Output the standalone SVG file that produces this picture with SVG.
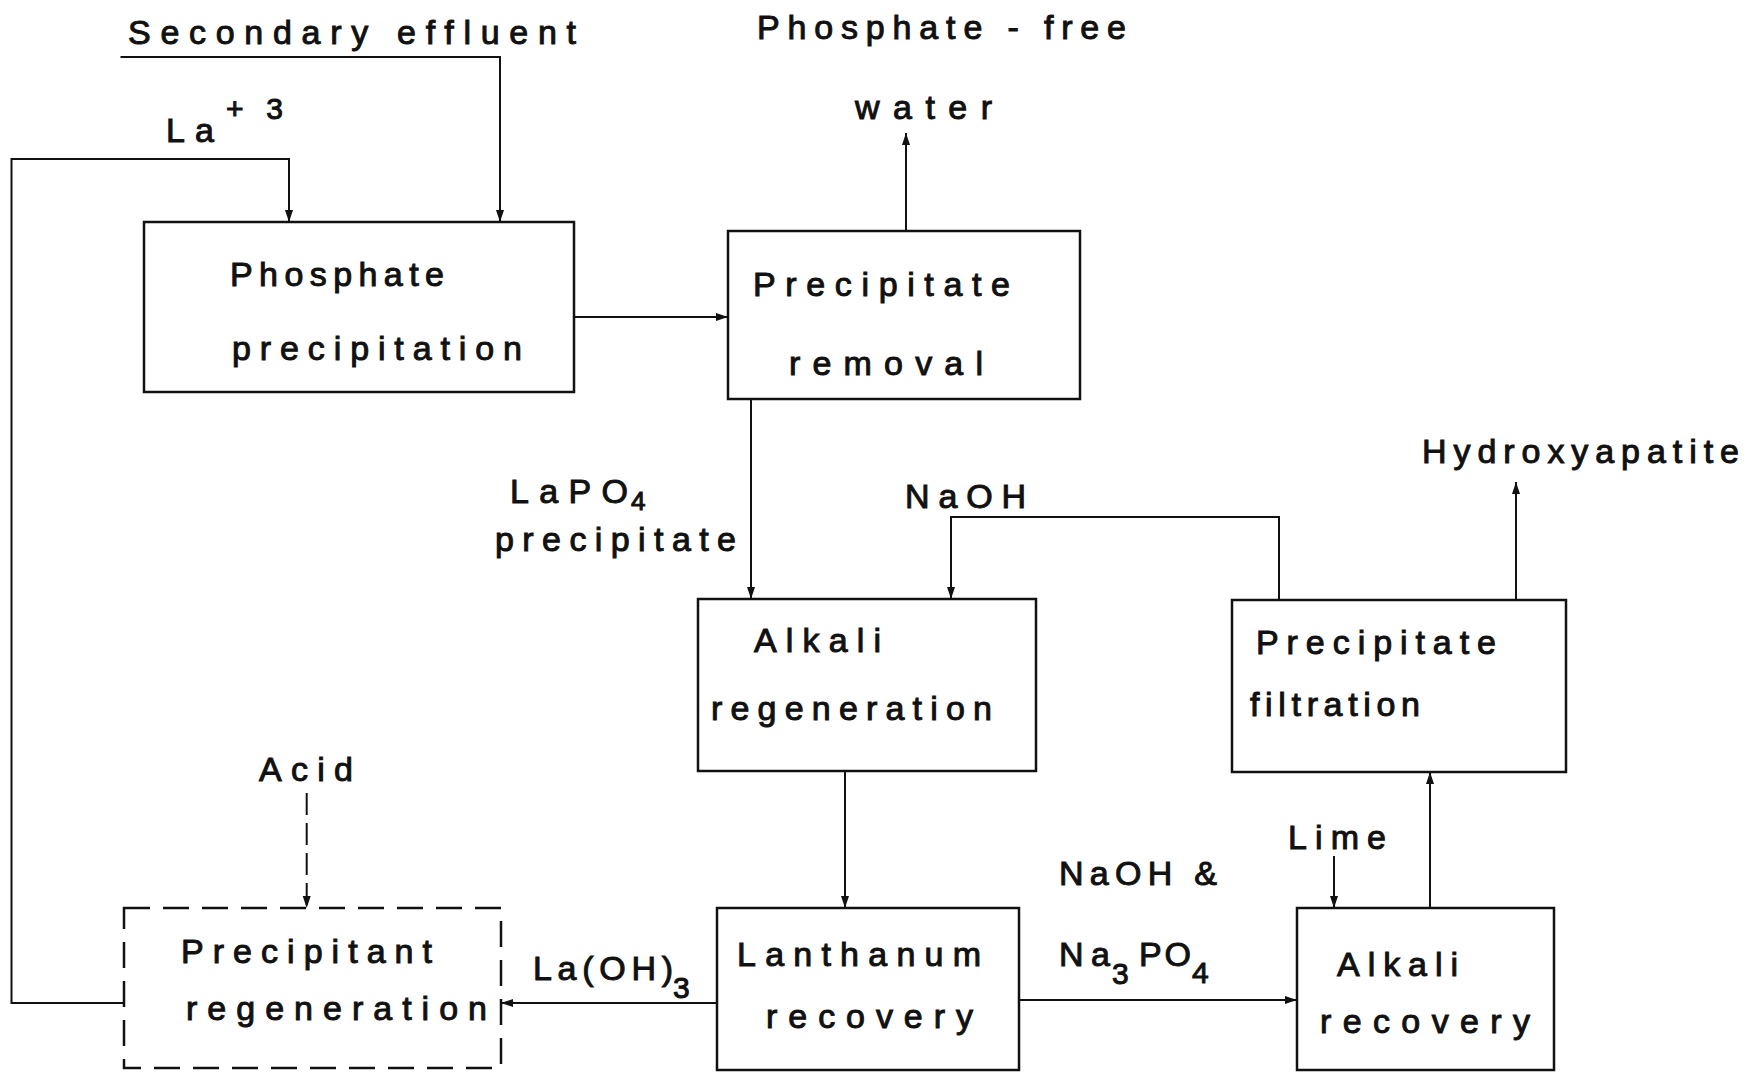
<svg xmlns="http://www.w3.org/2000/svg" width="1764" height="1072" viewBox="0 0 1764 1072">
<style>
text{font-family:"Liberation Sans",Arial,sans-serif;font-size:34px;font-weight:normal;fill:#111;stroke:#111;stroke-width:1}
.box{fill:none;stroke:#111;stroke-width:2.5}
.dash{stroke-dasharray:26 13}
.c{fill:none;stroke:#111;stroke-width:2}
.sub{font-size:30px}
.sm{font-size:26px}
</style>
<defs>
<marker id="ah" viewBox="0 0 12 10" refX="12" refY="5" markerWidth="12" markerHeight="10" markerUnits="userSpaceOnUse" orient="auto">
<path d="M0,1 L12,5 L0,9 z" fill="#111"/>
</marker>
</defs>
<rect width="1764" height="1072" fill="#fff"/>
<g id="connectors">
<path class="c" d="M120.5,57 H500 V222" marker-end="url(#ah)"/>
<path class="c" d="M124,1003 H11.5 V159 H289 V222" marker-end="url(#ah)"/>
<path class="c" d="M574,317 H728" marker-end="url(#ah)"/>
<path class="c" d="M906,231 V133" marker-end="url(#ah)"/>
<path class="c" d="M751,399 V599" marker-end="url(#ah)"/>
<path class="c" d="M1279,600 V517 H951 V599" marker-end="url(#ah)"/>
<path class="c" d="M1516,600 V482" marker-end="url(#ah)"/>
<path class="c" d="M845,771 V908" marker-end="url(#ah)"/>
<path class="c" d="M717,1003 H501" marker-end="url(#ah)"/>
<path class="c" d="M1019,1000 H1297" marker-end="url(#ah)"/>
<path class="c" d="M1334,856 V908" marker-end="url(#ah)"/>
<path class="c" d="M1430,908 V772" marker-end="url(#ah)"/>
<path class="c" d="M306.7,793 V908" stroke-dasharray="22 8" marker-end="url(#ah)"/>
</g>
<g id="labels">
<text x="128" y="44" textLength="448" lengthAdjust="spacing">Secondary effluent</text>
<text x="166" y="142" textLength="48" lengthAdjust="spacing">La</text>
<text x="226" y="119" textLength="57" lengthAdjust="spacing" class="sub">+3</text>
<text x="757" y="39" textLength="369" lengthAdjust="spacing">Phosphate - free</text>
<text x="855" y="119" textLength="137" lengthAdjust="spacing">water</text>
<text x="510" y="503" textLength="118" lengthAdjust="spacing">LaPO</text>
<text x="631" y="510" textLength="20" lengthAdjust="spacing" class="sm">4</text>
<text x="495" y="551" textLength="241" lengthAdjust="spacing">precipitate</text>
<text x="905" y="508" textLength="121" lengthAdjust="spacing">NaOH</text>
<text x="1422" y="463" textLength="317" lengthAdjust="spacing">Hydroxyapatite</text>
<text x="259" y="781" textLength="94" lengthAdjust="spacing">Acid</text>
<text x="533" y="980" textLength="140" lengthAdjust="spacing">La(OH)</text>
<text x="673" y="998" textLength="21" lengthAdjust="spacing" class="sub">3</text>
<text x="1059" y="885" textLength="158" lengthAdjust="spacing">NaOH &amp;</text>
<text x="1059" y="966" textLength="51" lengthAdjust="spacing">Na</text>
<text x="1112" y="984" textLength="21" lengthAdjust="spacing" class="sub">3</text>
<text x="1139" y="966" textLength="52" lengthAdjust="spacing">PO</text>
<text x="1192" y="983" textLength="22" lengthAdjust="spacing" class="sub">4</text>
<text x="1288" y="849" textLength="98" lengthAdjust="spacing">Lime</text>
</g>
<g id="phosphate-precipitation">
<rect class="box" x="144" y="222" width="430" height="170"/>
<text x="230" y="286" textLength="214" lengthAdjust="spacing">Phosphate</text>
<text x="232" y="360" textLength="290" lengthAdjust="spacing">precipitation</text>
</g>
<g id="precipitate-removal">
<rect class="box" x="728" y="231" width="352" height="168"/>
<text x="753" y="296" textLength="257" lengthAdjust="spacing">Precipitate</text>
<text x="789" y="375" textLength="194" lengthAdjust="spacing">removal</text>
</g>
<g id="alkali-regeneration">
<rect class="box" x="698" y="599" width="338" height="172"/>
<text x="754" y="652" textLength="127" lengthAdjust="spacing">Alkali</text>
<text x="711" y="720" textLength="281" lengthAdjust="spacing">regeneration</text>
</g>
<g id="precipitate-filtration">
<rect class="box" x="1232" y="600" width="334" height="172"/>
<text x="1256" y="654" textLength="240" lengthAdjust="spacing">Precipitate</text>
<text x="1250" y="716" textLength="170" lengthAdjust="spacing">filtration</text>
</g>
<g id="precipitant-regeneration">
<rect class="box dash" x="124" y="908" width="377" height="160"/>
<text x="181" y="963" textLength="251" lengthAdjust="spacing">Precipitant</text>
<text x="186" y="1020" textLength="301" lengthAdjust="spacing">regeneration</text>
</g>
<g id="lanthanum-recovery">
<rect class="box" x="717" y="908" width="302" height="162"/>
<text x="737" y="966" textLength="244" lengthAdjust="spacing">Lanthanum</text>
<text x="766" y="1028" textLength="207" lengthAdjust="spacing">recovery</text>
</g>
<g id="alkali-recovery">
<rect class="box" x="1297" y="908" width="257" height="162"/>
<text x="1337" y="976" textLength="121" lengthAdjust="spacing">Alkali</text>
<text x="1320" y="1033" textLength="210" lengthAdjust="spacing">recovery</text>
</g>
</svg>
